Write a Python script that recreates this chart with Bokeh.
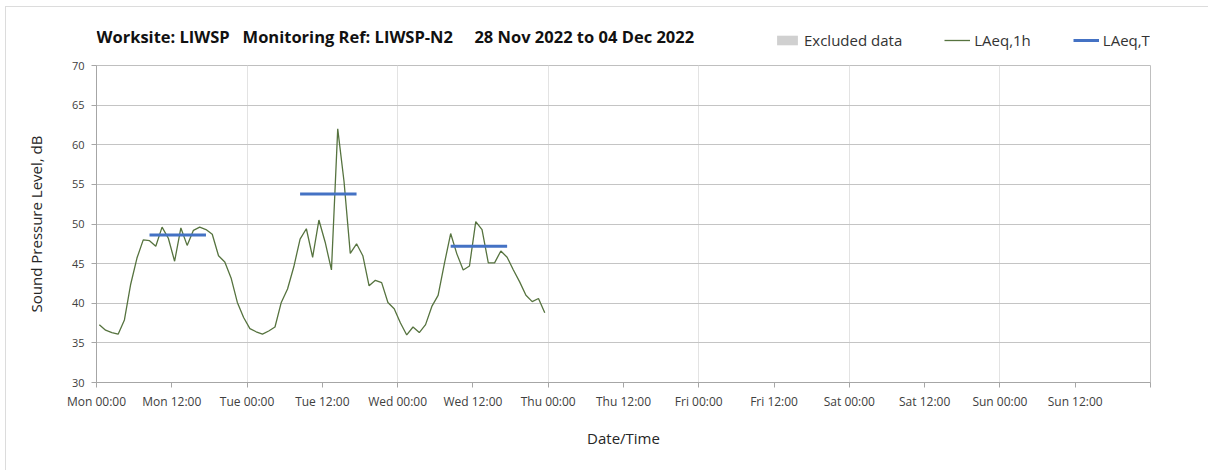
import math
from bokeh.plotting import figure
from bokeh.layouts import column
from bokeh.models import Range1d, FixedTicker, Legend, LegendItem, Label
from bokeh.embed import file_html
from bokeh.resources import INLINE

# ---- data ----
# hourly LAeq,1h values starting Mon 28 Nov 2022 00:00
laeq_1h = [
    37.3, 36.6, 36.3, 36.1, 37.9, 42.4, 45.7, 48.0, 47.9, 47.2, 49.6, 48.2,
    45.3, 49.5, 47.3, 49.2, 49.6, 49.3, 48.7, 46.0, 45.2, 43.2, 40.1, 38.2,
    36.8, 36.4, 36.1, 36.5, 37.0, 40.1, 41.8, 44.6, 48.1, 49.4, 45.8, 50.5,
    47.7, 44.2, 62.0, 55.4, 46.3, 47.5, 46.0, 42.2, 42.9, 42.6, 40.1, 39.3,
    37.5, 36.0, 37.0, 36.3, 37.3, 39.6, 41.0, 45.0, 48.8, 46.2, 44.2, 44.7,
    50.3, 49.3, 45.1, 45.1, 46.6, 45.8, 44.2, 42.7, 41.0, 40.2, 40.6, 38.8,
]
hour_offset = 0.45
# daytime LAeq,T periods
period_day = [0, 1, 2]
period_start_hour = [8, 8, 8]
period_end_hour = [17, 17, 17]
laeq_t = [48.6, 53.8, 47.2]
# excluded data periods (none in this week)
excluded_start = []
excluded_end = []

tick_hours = list(range(0, 169, 12))
tick_labels = ["Mon 00:00", "Mon 12:00", "Tue 00:00", "Tue 12:00", "Wed 00:00",
               "Wed 12:00", "Thu 00:00", "Thu 12:00", "Fri 00:00", "Fri 12:00",
               "Sat 00:00", "Sat 12:00", "Sun 00:00", "Sun 12:00", ""]
y_ticks = [30, 35, 40, 45, 50, 55, 60, 65, 70]

title_text = ("Worksite: LIWSP\u00a0\u00a0\u00a0Monitoring Ref: LIWSP-N2"
              "\u00a0\u00a0\u00a0\u00a0\u00a028 Nov 2022 to 04 Dec 2022")
legend_labels = ["Excluded data", "LAeq,1h", "LAeq,T"]

FONT = "Open Sans"
TXT = "#404040"
C_EX = "#d0d0d0"
C_1H = "#56733f"
C_T = "#4472c4"

W = 1202
HEAD_H = 50

# ---------------- header (title + legend) ----------------
head = figure(width=W, height=HEAD_H, output_backend="svg", toolbar_location=None,
              x_range=Range1d(0, W), y_range=Range1d(0, HEAD_H),
              x_axis_location=None, y_axis_location=None,
              min_border_left=0, min_border_right=0, min_border_top=0,
              min_border_bottom=0)
head.grid.visible = False
head.outline_line_color = None
head.background_fill_color = "white"
head.border_fill_color = "white"

head.add_layout(Label(x=0, y=21, x_units="screen", y_units="screen",
                      text=title_text, text_font=FONT, text_font_style="bold",
                      text_font_size="16.5px", text_color="#111111",
                      text_baseline="middle", text_align="left"))

nan = [math.nan]
px_ex = head.quad(left=nan, right=nan, bottom=nan, top=nan,
                  fill_color=C_EX, line_color=None)
px_1h = head.line(nan, nan, line_color=C_1H, line_width=1.3)
px_t = head.line(nan, nan, line_color=C_T, line_width=3)
legend = Legend(items=[LegendItem(label=legend_labels[0], renderers=[px_ex]),
                       LegendItem(label=legend_labels[1], renderers=[px_1h]),
                       LegendItem(label=legend_labels[2], renderers=[px_t])],
                orientation="horizontal", location=(678, 7),
                glyph_width=26, glyph_height=12, label_height=20,
                label_standoff=4, spacing=42, padding=0, margin=0,
                border_line_color=None, background_fill_alpha=0,
                label_text_font=FONT, label_text_font_size="15px",
                label_text_color="#333333")
head.add_layout(legend, "center")

# ---------------- main chart ----------------
p = figure(width=W, height=413, output_backend="svg", toolbar_location=None,
           x_range=Range1d(0, 168), y_range=Range1d(30, 70),
           min_border_left=90, min_border_right=58, min_border_top=8,
           min_border_bottom=88)
p.outline_line_color = "#bfbfbf"
p.background_fill_color = "white"
p.border_fill_color = "white"

p.xaxis.ticker = FixedTicker(ticks=tick_hours)
p.xaxis.major_label_overrides = {h: lab for h, lab in zip(tick_hours, tick_labels)}
p.xaxis.minor_tick_line_color = None
p.xaxis.major_tick_out = 5
p.xaxis.major_tick_in = 0
p.xaxis.major_label_standoff = 5
p.xaxis.axis_label = "Date/Time"
p.xaxis.axis_label_standoff = 15

p.yaxis.ticker = FixedTicker(ticks=y_ticks)
p.yaxis.minor_tick_line_color = None
p.yaxis.major_tick_out = 5
p.yaxis.major_tick_in = 0
p.yaxis.major_label_standoff = 7
p.yaxis.axis_label = "Sound Pressure Level, dB"
p.yaxis.axis_label_standoff = 23

for ax in (p.xaxis[0], p.yaxis[0]):
    ax.axis_line_color = "#a6a6a6"
    ax.major_tick_line_color = "#a6a6a6"
    ax.major_label_text_font = FONT
    ax.major_label_text_color = TXT
    ax.axis_label_text_font = FONT
    ax.axis_label_text_font_style = "normal"
    ax.axis_label_text_font_size = "15px"
    ax.axis_label_text_color = "#262626"
p.xaxis.major_label_text_font_size = "12px"
p.yaxis.major_label_text_font_size = "11px"

p.ygrid.ticker = FixedTicker(ticks=y_ticks)
p.ygrid.grid_line_color = "#c4c4c4"
p.xgrid.ticker = FixedTicker(ticks=list(range(0, 169, 24)))
p.xgrid.grid_line_color = "#e3e3e3"

hours = [i + hour_offset for i in range(len(laeq_1h))]
p.quad(left=excluded_start, right=excluded_end, bottom=30, top=70,
       fill_color=C_EX, line_color=None)
p.line(hours, laeq_1h, line_color=C_1H, line_width=1.3)
x0 = [d * 24 + s + hour_offset for d, s in zip(period_day, period_start_hour)]
x1 = [d * 24 + e + hour_offset for d, e in zip(period_day, period_end_hour)]
p.segment(x0=x0, x1=x1, y0=laeq_t, y1=laeq_t, line_color=C_T, line_width=3)

layout = column(head, p, spacing=0)
layout.styles = {"margin-left": "5px", "margin-top": "6px",
                 "border-top": "1px solid #dcdcdc",
                 "border-left": "1px solid #dcdcdc"}

open("out.html", "w").write(file_html(layout, INLINE))
